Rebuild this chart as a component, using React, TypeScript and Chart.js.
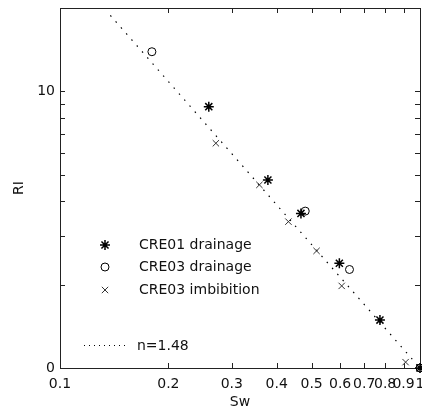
import { useEffect, useRef } from 'react';
import { Chart, registerables } from 'chart.js';
import { drawPoint } from 'chart.js/helpers';

Chart.register(...registerables);

// CRE01 drainage (asterisks)
const cre01Sw = [0.259, 0.378, 0.467, 0.597, 0.774, 1.0];
const cre01RI = [8.8, 4.78, 3.62, 2.39, 1.49, 1.0];
// CRE03 drainage (open circles)
const cre03dSw = [0.18, 0.48, 0.637, 1.0];
const cre03dRI = [13.9, 3.69, 2.27, 1.0];
// CRE03 imbibition (crosses)
const cre03iSw = [0.271, 0.358, 0.431, 0.516, 0.606, 0.912];
const cre03iRI = [6.49, 4.59, 3.38, 2.65, 1.98, 1.05];
// fitted line n=1.48 (end points)
const fitSw = [0.138, 1.0];
const fitRI = [18.8, 1.0];

const xTicks = [0.1, 0.2, 0.3, 0.4, 0.5, 0.6, 0.7, 0.8, 0.9, 1];
const xTickLabels = ['0.1', '0.2', '0.3', '0.4', '0.5', '0.6', '0.7', '0.8', '0.9', '1'];
const yTicks = [1, 2, 3, 4, 5, 6, 7, 8, 9, 10, 20];
const yTickLabelMap: Record<number, string> = { 1: '0', 10: '10' };

const legendLabels = ['CRE01 drainage', 'CRE03 drainage', 'CRE03 imbibition'];
const fitLabel = 'n=1.48';

const FONT = "'DejaVu Sans', sans-serif";
const INK = '#111';

const toPts = (xs: number[], ys: number[]) => xs.map((x, i) => ({ x, y: ys[i] }));

export default function App() {
  const ref = useRef<HTMLCanvasElement>(null);

  useEffect(() => {
    document.body.style.margin = '0';
    const canvas = ref.current!;

    const framePlugin = {
      id: 'frame',
      beforeDatasetsDraw(chart: any) {
        const { ctx, chartArea } = chart;
        const { left, right, top, bottom } = chartArea;
        const xs = chart.scales.x;
        const ys = chart.scales.y;
        ctx.save();
        ctx.strokeStyle = '#222';
        ctx.lineWidth = 1;
        ctx.beginPath();
        ctx.moveTo(left + 0.5, top + 0.5);
        ctx.lineTo(right + 0.5, top + 0.5);
        ctx.lineTo(right + 0.5, bottom + 0.5);
        ctx.lineTo(left + 0.5, bottom + 0.5);
        ctx.closePath();
        const tl = 5;
        for (const v of xTicks) {
          const px = Math.round(xs.getPixelForValue(v)) + 0.5;
          ctx.moveTo(px, bottom);
          ctx.lineTo(px, bottom - tl);
          ctx.moveTo(px, top);
          ctx.lineTo(px, top + tl);
        }
        for (const v of yTicks) {
          if (v > ys.max) continue;
          const py = Math.round(ys.getPixelForValue(v)) + 0.5;
          ctx.moveTo(left, py);
          ctx.lineTo(left + tl, py);
          ctx.moveTo(right, py);
          ctx.lineTo(right - tl, py);
        }
        ctx.stroke();
        ctx.restore();
      },
      afterDraw(chart: any) {
        const { ctx } = chart;
        ctx.save();
        const mx = 105;
        const tx = 139;
        const rows = [245, 267, 290];
        const styles = [
          { pointStyle: 'star', radius: 5, borderWidth: 1.5, color: '#000', fill: '#000' },
          { pointStyle: 'circle', radius: 4, borderWidth: 1, color: '#000', fill: 'rgba(0,0,0,0)' },
          { pointStyle: 'crossRot', radius: 4.5, borderWidth: 1, color: '#333', fill: '#333' },
        ];
        rows.forEach((y, i) => {
          const s = styles[i];
          ctx.strokeStyle = s.color;
          ctx.fillStyle = s.fill;
          ctx.lineWidth = s.borderWidth;
          drawPoint(ctx, { pointStyle: s.pointStyle as any, radius: s.radius, rotation: 0, borderWidth: s.borderWidth }, mx, y);
        });
        ctx.fillStyle = INK;
        ctx.font = `14px ${FONT}`;
        ctx.textBaseline = 'middle';
        ctx.textAlign = 'left';
        rows.forEach((y, i) => ctx.fillText(legendLabels[i], tx, y));
        // fit line legend
        ctx.strokeStyle = '#000';
        ctx.lineWidth = 1;
        ctx.setLineDash([1, 4]);
        ctx.beginPath();
        ctx.moveTo(84, 345.5);
        ctx.lineTo(129, 345.5);
        ctx.stroke();
        ctx.setLineDash([]);
        ctx.fillText(fitLabel, 137, 346);
        ctx.restore();
      },
    };

    const chart = new Chart(canvas, {
      type: 'scatter',
      data: {
        datasets: [
          {
            label: legendLabels[0],
            data: toPts(cre01Sw, cre01RI),
            pointStyle: 'star',
            pointRadius: 5,
            borderWidth: 1.5,
            borderColor: '#000',
            backgroundColor: '#000',
            clip: false,
          } as any,
          {
            label: legendLabels[1],
            data: toPts(cre03dSw, cre03dRI),
            pointStyle: 'circle',
            pointRadius: 4,
            borderWidth: 1,
            borderColor: '#000',
            backgroundColor: 'rgba(0,0,0,0)',
            clip: false,
          },
          {
            label: legendLabels[2],
            data: toPts(cre03iSw, cre03iRI),
            pointStyle: 'crossRot',
            pointRadius: 4.5,
            borderWidth: 1,
            borderColor: '#333',
            backgroundColor: '#333',
            clip: false,
          },
          {
            label: fitLabel,
            data: toPts(fitSw, fitRI),
            showLine: true,
            pointRadius: 0,
            borderWidth: 1.2,
            borderColor: '#000',
            borderDash: [1.5, 6.5],
            fill: false,
          },
        ],
      },
      options: {
        responsive: false,
        animation: false,
        events: [],
        layout: { autoPadding: false, padding: { top: 8, right: 2, left: 0, bottom: 0 } },
        plugins: { legend: { display: false }, tooltip: { enabled: false } },
        scales: {
          x: {
            type: 'logarithmic',
            position: 'bottom',
            min: 0.1,
            max: 1,
            grid: { display: false, drawTicks: false },
            border: { display: false },
            afterBuildTicks: (s: any) => {
              s.ticks = xTicks.map((v) => ({ value: v }));
            },
            ticks: {
              autoSkip: false,
              maxRotation: 0,
              minRotation: 0,
              padding: 8,
              color: INK,
              font: { family: FONT, size: 14 },
              callback: (v: any) => {
                const i = xTicks.indexOf(Number(v));
                return i >= 0 ? xTickLabels[i] : '';
              },
            },
            title: {
              display: true,
              text: 'Sw',
              color: INK,
              font: { family: FONT, size: 14 },
              padding: { top: 0, bottom: 0 },
            },
            afterFit: (s: any) => {
              s.height = 43;
              s.paddingLeft = 0;
              s.paddingRight = 0;
            },
          },
          y: {
            type: 'logarithmic',
            position: 'left',
            min: 1,
            max: 20,
            grid: { display: false, drawTicks: false },
            border: { display: false },
            afterBuildTicks: (s: any) => {
              s.ticks = yTicks.map((v) => ({ value: v }));
            },
            ticks: {
              autoSkip: false,
              padding: 5,
              color: INK,
              font: { family: FONT, size: 14 },
              callback: (v: any) => yTickLabelMap[Number(v)] ?? '',
            },
            title: {
              display: true,
              text: 'RI',
              color: INK,
              font: { family: FONT, size: 14 },
              padding: { top: 11, bottom: 0 },
            },
            afterFit: (s: any) => {
              s.width = 60;
              s.paddingTop = 0;
              s.paddingBottom = 0;
            },
          },
        },
      },
      plugins: [framePlugin],
    });

    return () => chart.destroy();
  }, []);

  return <canvas ref={ref} width={422} height={411} style={{ display: 'block' }} />;
}
